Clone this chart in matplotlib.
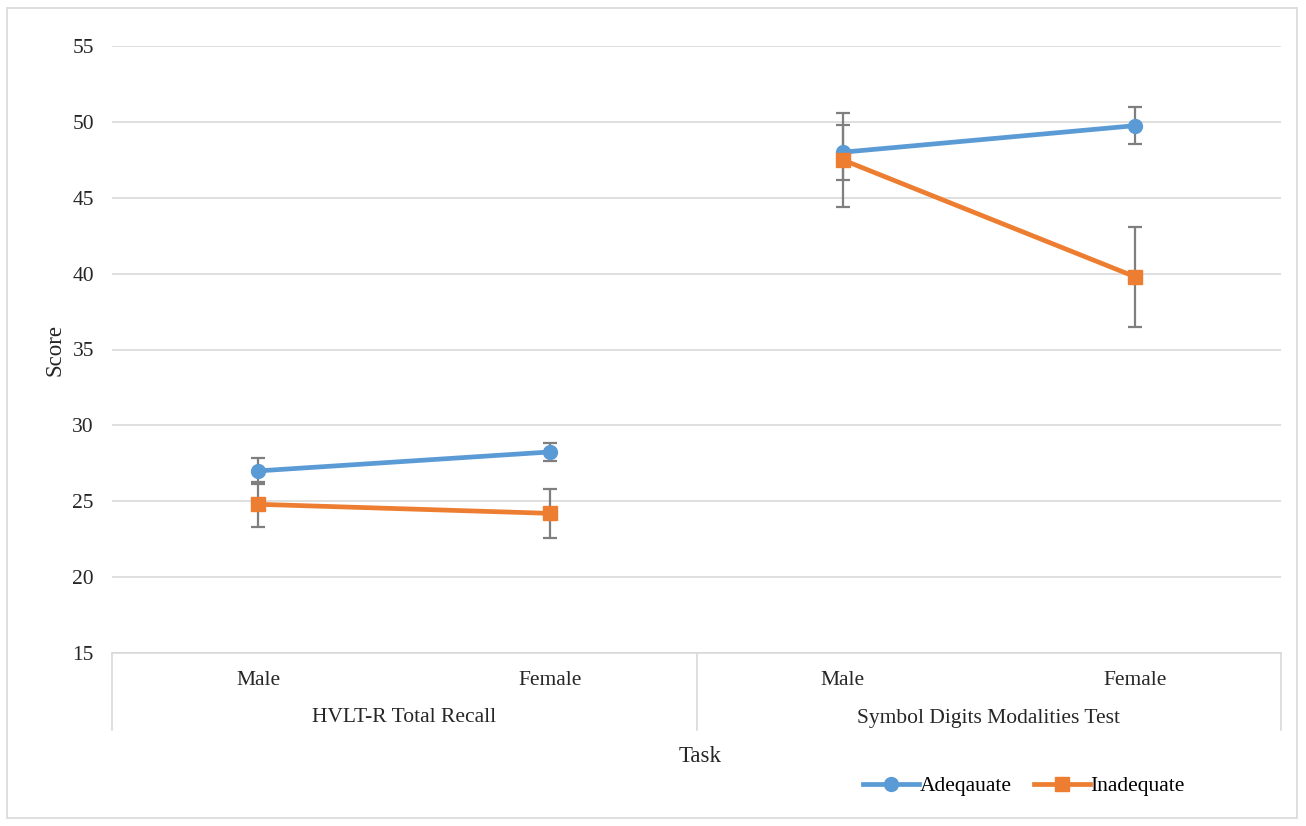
import matplotlib.pyplot as plt
import matplotlib.transforms as mtransforms
from matplotlib.patches import Rectangle

plt.rcParams['font.family'] = ['Liberation Serif', 'DejaVu Serif']

# data
sexes = ['Male', 'Female', 'Male', 'Female']
tasks = ['HVLT-R Total Recall', 'Symbol Digits Modalities Test']
adequate = [27.0, 28.25, 48.0, 49.75]
adequate_err = [0.85, 0.58, 1.8, 1.2]
inadequate = [24.8, 24.2, 47.5, 39.8]
inadequate_err = [1.5, 1.6, 3.1, 3.3]

blue = '#5B9BD5'
orange = '#ED7D31'
grey = '#7F7F7F'

fig = plt.figure(figsize=(13.06, 8.26), dpi=100)
ax = fig.add_axes([112 / 1306, 1 - 653 / 826, (1281 - 112) / 1306, (653 - 46) / 826])

fig.patches.append(Rectangle((7 / 1306, 8 / 826), 1290 / 1306, 810 / 826,
                             transform=fig.transFigure, fill=False,
                             edgecolor='#D9D9D9', linewidth=1.2))

x = list(range(len(sexes)))
groups = [(0, 2), (2, 4)]
for lo, hi in groups:
    ax.errorbar(x[lo:hi], adequate[lo:hi], yerr=adequate_err[lo:hi], fmt='none',
                ecolor=grey, elinewidth=1.6, capsize=5, capthick=1.6, zorder=2)
    ax.errorbar(x[lo:hi], inadequate[lo:hi], yerr=inadequate_err[lo:hi], fmt='none',
                ecolor=grey, elinewidth=1.6, capsize=5, capthick=1.6, zorder=2)
    ax.plot(x[lo:hi], adequate[lo:hi], color=blue, lw=3.4, marker='o', ms=10,
            label='Adeqauate' if lo == 0 else None, zorder=3)
    ax.plot(x[lo:hi], inadequate[lo:hi], color=orange, lw=3.4, marker='s', ms=9.5,
            label='Inadequate' if lo == 0 else None, zorder=3)

ax.set_xlim(-0.5, 3.5)
ax.set_ylim(15, 55)
ax.set_yticks(range(15, 60, 5))
ax.grid(axis='y', color='#D9D9D9', linewidth=1.2)
ax.set_axisbelow(True)
for side in ['top', 'right', 'left']:
    ax.spines[side].set_visible(False)
ax.spines['bottom'].set_color('#D9D9D9')
ax.spines['bottom'].set_linewidth(1.2)
ax.tick_params(axis='y', length=0, pad=13, labelsize=15.5, labelcolor='#262626')
ax.set_xticks(x)
ax.set_xticklabels(sexes)
ax.tick_params(axis='x', length=0, pad=13, labelsize=15.5, labelcolor='#262626')

# multi-level category axis
trans = mtransforms.blended_transform_factory(ax.transData, ax.transAxes)
for xv in [-0.5, 1.5, 3.5]:
    ax.plot([xv, xv], [0, -77 / 607], transform=trans, color='#D9D9D9',
            lw=1.2, clip_on=False)
for i, task in enumerate(tasks):
    ax.text(2 * i + 0.5, -65 / 607, task, transform=trans, ha='center',
            va='center', fontsize=15.5, color='#262626')

ax.set_ylabel('Score', fontsize=16.5, color='#262626', labelpad=5)
fig.text(700 / 1306, 1 - 756 / 826, 'Task', ha='center', va='center',
         fontsize=16.5, color='#262626')

fig.legend(loc='center', bbox_to_anchor=(1024 / 1306, 1 - 786 / 826), ncol=2,
           frameon=False, fontsize=15.5, handlelength=2.6, columnspacing=1.0,
           handletextpad=0.05)

fig.savefig('out.png', dpi=100)
